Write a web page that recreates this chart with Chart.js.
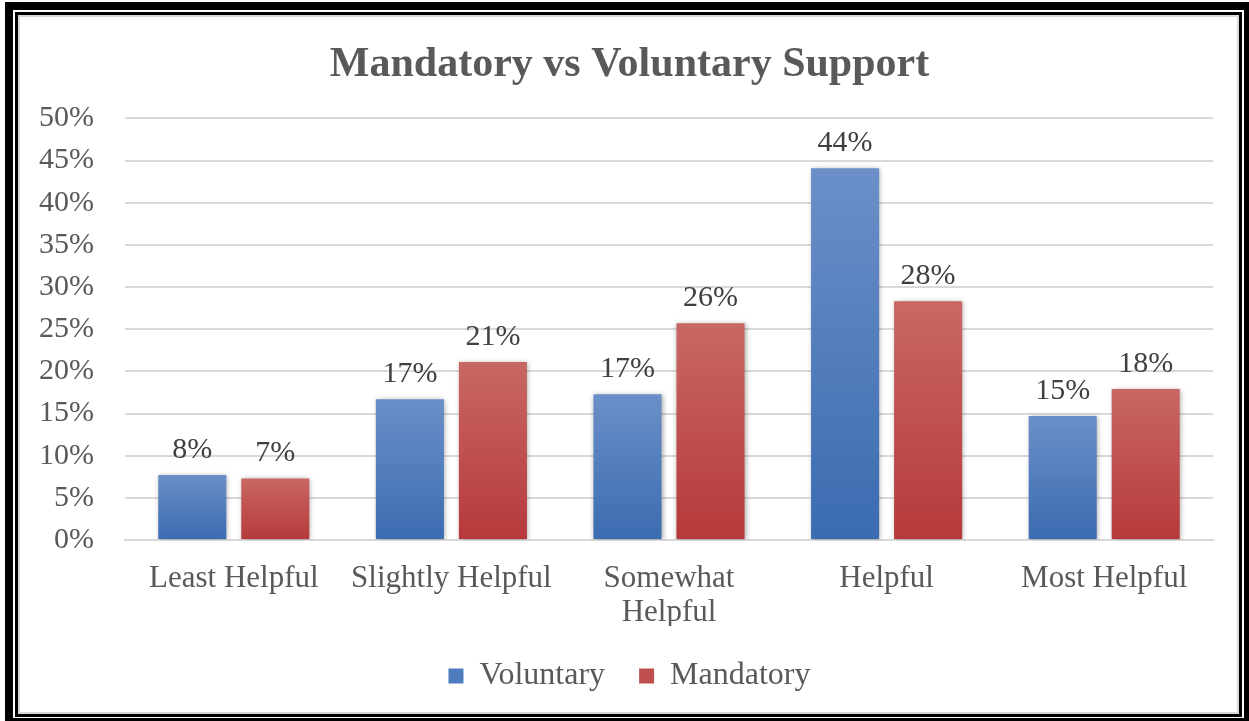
<!DOCTYPE html>
<html>
<head>
<meta charset="utf-8">
<script src="https://cdn.jsdelivr.net/npm/chart.js@4"></script>
<style>
  html, body { margin: 0; padding: 0; width: 1249px; height: 721px; overflow: hidden; background: #fff; }
  .outer { position: absolute; left: 5px; top: 2px; width: 1231px; height: 708px; border: 8px solid #000; }
  .inner { position: absolute; left: 15px; top: 12px; width: 1221px; height: 699px; border: 3px solid #000; }
  .gray  { position: absolute; left: 18px; top: 15px; width: 1217px; height: 695px; border: 2px solid #d9d9d9; }
  .box   { position: absolute; left: 22px; top: 19px; width: 1215px; height: 694px; }
</style>
</head>
<body>
<div class="outer"></div>
<div class="inner"></div>
<div class="gray"></div>
<div class="box"><canvas id="chart"></canvas></div>
<script>
// data
const categories = ['Least Helpful', 'Slightly Helpful', ['Somewhat', 'Helpful'], 'Helpful', 'Most Helpful'];
const voluntary = [7.7, 16.7, 17.3, 44.1, 14.7];
const mandatory = [7.3, 21.1, 25.7, 28.3, 17.9];
const yTicks = [0, 5, 10, 15, 20, 25, 30, 35, 40, 45, 50];

const serif = "'Liberation Serif', 'Times New Roman', serif";

// vertical gradient per bar, lighter at top
function barFill(top, bottom) {
  return function (ctx) {
    const chart = ctx.chart;
    const y = chart.scales && chart.scales.y;
    if (!y || ctx.raw === undefined || !chart.chartArea) return bottom;
    const y0 = y.getPixelForValue(ctx.raw);
    const y1 = y.getPixelForValue(0);
    if (!isFinite(y0) || !isFinite(y1) || y0 === y1) return bottom;
    const g = chart.ctx.createLinearGradient(0, y0, 0, y1);
    g.addColorStop(0, top);
    g.addColorStop(1, bottom);
    return g;
  };
}

// soft shadow under bars
const barShadow = {
  id: 'barShadow',
  beforeDatasetsDraw(chart) {
    const c = chart.ctx;
    c.save();
    c.shadowColor = 'rgba(0,0,0,0.35)';
    c.shadowBlur = 5;
    c.shadowOffsetX = 1;
    c.shadowOffsetY = 1;
  },
  afterDatasetsDraw(chart) {
    chart.ctx.restore();
  }
};

// value labels above bars
const valueLabels = {
  id: 'valueLabels',
  afterDatasetsDraw(chart) {
    const c = chart.ctx;
    c.save();
    c.font = '30px ' + serif;
    c.fillStyle = '#404040';
    c.textAlign = 'center';
    c.textBaseline = 'bottom';
    chart.data.datasets.forEach((ds, i) => {
      chart.getDatasetMeta(i).data.forEach((bar, j) => {
        c.fillText(Math.round(ds.data[j]) + '%', bar.x, bar.y - 10);
      });
    });
    c.restore();
  }
};

new Chart(document.getElementById('chart'), {
  type: 'bar',
  data: {
    labels: categories,
    datasets: [
      {
        label: 'Voluntary',
        data: voluntary,
        backgroundColor: barFill('#6b8fc8', '#3a6cb0'),
        borderWidth: 0,
        categoryPercentage: 0.763,
        barPercentage: 0.82,
      },
      {
        label: 'Mandatory',
        data: mandatory,
        backgroundColor: barFill('#c86864', '#b6393a'),
        borderWidth: 0,
        categoryPercentage: 0.763,
        barPercentage: 0.82,
      }
    ]
  },
  options: {
    responsive: true,
    maintainAspectRatio: false,
    animation: false,
    events: [],
    layout: { padding: { top: 21, right: 0, bottom: 11, left: 0 } },
    plugins: {
      title: {
        display: true,
        text: 'Mandatory vs Voluntary Support',
        color: '#595959',
        font: { family: serif, size: 42, weight: 'bold', lineHeight: 1.2 },
        padding: { top: 0, bottom: 28 }
      },
      legend: {
        position: 'bottom',
        labels: {
          color: '#595959',
          font: { family: serif, size: 32 },
          boxWidth: 15,
          boxHeight: 15,
          padding: 34,
          generateLabels(chart) {
            return chart.data.datasets.map((ds, i) => ({
              text: ds.label,
              fillStyle: i === 0 ? '#4f7cbd' : '#c0504d',
              strokeStyle: 'rgba(0,0,0,0)',
              lineWidth: 0,
              datasetIndex: i,
              fontColor: '#595959'
            }));
          }
        }
      },
      tooltip: { enabled: false }
    },
    scales: {
      x: {
        grid: { display: false },
        border: { color: '#d9d9d9', width: 2 },
        ticks: {
          color: '#595959',
          font: { family: serif, size: 31, lineHeight: 1.1 },
          padding: 14,
          maxRotation: 0,
          autoSkip: false
        },
        afterFit(scale) { scale.height = 86; }
      },
      y: {
        min: 0,
        max: 50,
        afterBuildTicks(scale) { scale.ticks = yTicks.map(v => ({ value: v })); },
        grid: { color: '#d9d9d9', lineWidth: 2, drawTicks: false },
        border: { display: false },
        ticks: {
          color: '#595959',
          font: { family: serif, size: 30 },
          padding: 31,
          callback: v => v + '%'
        },
        afterFit(scale) { scale.width = 103; }
      },
      // empty right gutter so title and legend stay centred on the whole box
      gutter: {
        position: 'right',
        grid: { drawOnChartArea: false, drawTicks: false },
        border: { display: false },
        ticks: { display: false },
        afterFit(scale) { scale.width = 24; }
      }
    }
  },
  plugins: [barShadow, valueLabels]
});
</script>
</body>
</html>
